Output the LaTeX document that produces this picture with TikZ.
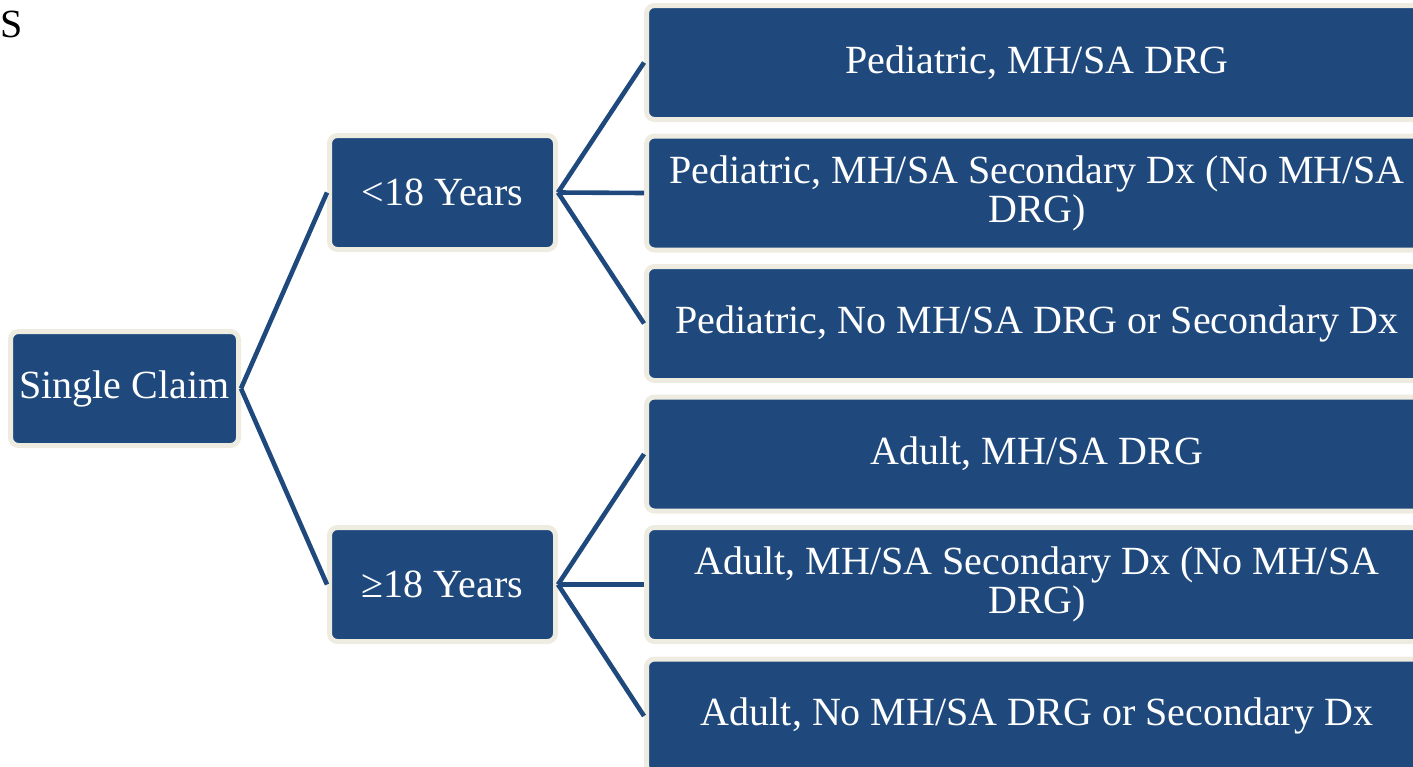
\documentclass[tikz,border=0pt]{standalone}
\usepackage{fontspec}
\setmainfont{Liberation Serif}
\definecolor{boxblue}{HTML}{1F497D}
\definecolor{boxcream}{HTML}{EEECE1}
\tikzset{
  box/.style={rectangle, rounded corners=8pt, fill=boxblue, draw=boxcream,
    line width=5pt, text=white, font=\fontsize{40}{39}\selectfont,
    align=center, inner sep=0pt, minimum height=114pt},
  smallbox/.style={box, minimum width=226pt},
  bigbox/.style={box, minimum width=781pt},
  link/.style={draw=boxblue, line width=4.6pt}
}
\begin{document}
\begin{tikzpicture}[x=1pt,y=-1pt]
\useasboundingbox (0,0) rectangle (1413,766);
\node[anchor=base west, inner sep=0pt, font=\fontsize{40}{40}\selectfont] (s) at (0,37) {S};
% nodes
\node[box, minimum width=228pt] (sc) at (124.5,388.5) {Single Claim};
\node[smallbox] (lt) at (442.5,192.5) {<18 Years};
\node[smallbox] (ge) at (442.5,584.5) {≥18 Years};
\node[bigbox] (p1) at (1037,62.5) {Pediatric, MH/SA DRG};
\node[bigbox] (p2) at (1037,193) {Pediatric, MH/SA Secondary Dx (No MH/SA\\DRG)};
\node[bigbox] (p3) at (1037,323.5) {Pediatric, No MH/SA DRG or Secondary Dx};
\node[bigbox] (a1) at (1037,454) {Adult, MH/SA DRG};
\node[bigbox] (a2) at (1037,584.5) {Adult, MH/SA Secondary Dx (No MH/SA\\DRG)};
\node[bigbox] (a3) at (1037,716) {Adult, No MH/SA DRG or Secondary Dx};
% connectors
\path[link] (sc.east) -- (lt.west);
\path[link] (sc.east) -- (ge.west);
\path[link] (lt.east) -- (p1.west);
\path[link] (lt.east) -- (p2.west);
\path[link] (lt.east) -- (p3.west);
\path[link] (ge.east) -- (a1.west);
\path[link] (ge.east) -- (a2.west);
\path[link] (ge.east) -- (a3.west);
\end{tikzpicture}
\end{document}
